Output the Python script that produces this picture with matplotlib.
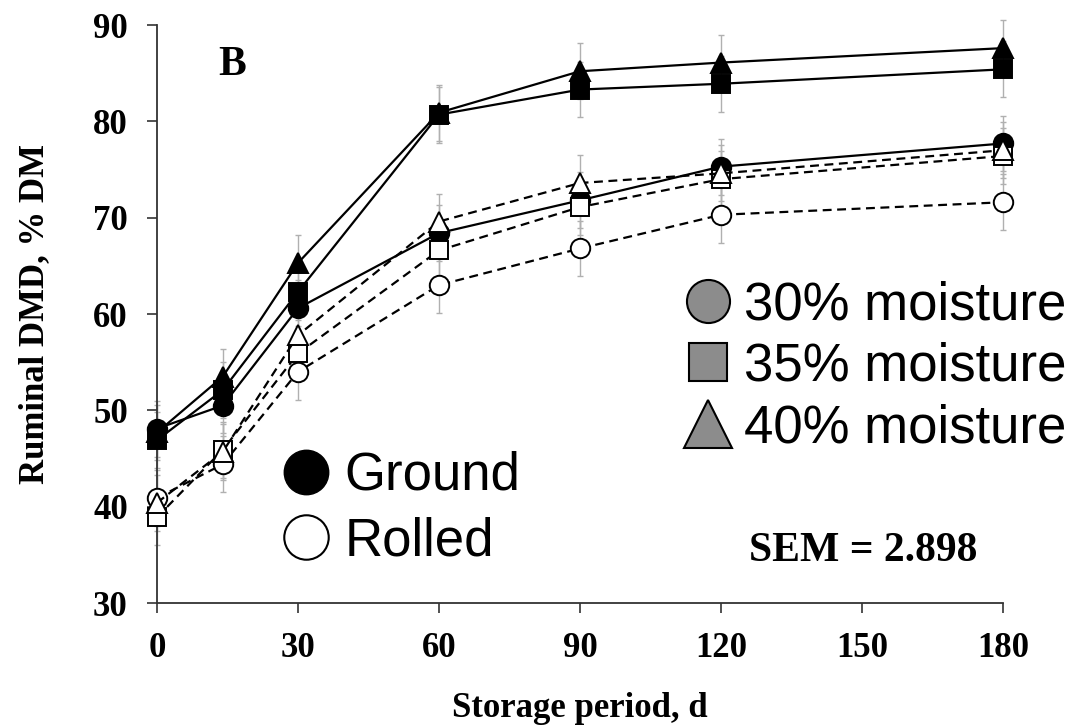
import matplotlib
matplotlib.use("Agg")
import matplotlib.pyplot as plt
from matplotlib.lines import Line2D

# ---- data ----
days = [0, 14, 30, 60, 90, 120, 180]
ground_30 = [48.1, 50.5, 60.6, 68.4, 71.8, 75.3, 77.7]
ground_35 = [46.9, 52.1, 62.3, 80.7, 83.3, 83.9, 85.4]
ground_40 = [47.7, 53.5, 65.3, 80.9, 85.2, 86.1, 87.6]
rolled_30 = [40.9, 44.4, 54.0, 63.0, 66.8, 70.3, 71.6]
rolled_35 = [38.9, 45.9, 55.9, 66.6, 71.1, 74.0, 76.4]
rolled_40 = [40.4, 45.7, 57.8, 69.6, 73.6, 74.6, 77.0]
sem = 2.898
x_ticks = [0, 30, 60, 90, 120, 150, 180]
y_ticks = [30, 40, 50, 60, 70, 80, 90]
moisture_labels = ["30% moisture", "35% moisture", "40% moisture"]
process_labels = ["Ground", "Rolled"]

W, H = 1080, 728
fig = plt.figure(figsize=(W / 100, H / 100), dpi=100)
ax = fig.add_axes([157 / W, 1 - 603 / H, (1003 - 157) / W, (603 - 25) / H])

serif = "Liberation Serif"
sans = "Liberation Sans"

series = [
    (ground_30, "o", "black", "-", 14),
    (ground_35, "s", "black", "-", 13),
    (ground_40, "^", "black", "-", 14),
    (rolled_30, "o", "white", "--", 14),
    (rolled_35, "s", "white", "--", 13),
    (rolled_40, "^", "white", "--", 14),
]
for vals, mk, fc, ls, ms in series:
    ax.errorbar(days, vals, yerr=sem, fmt="none", ecolor="#b0b0b0",
                elinewidth=1.0, capsize=2.5, capthick=1.0, zorder=1,
                clip_on=False)
for vals, mk, fc, ls, ms in series:
    line, = ax.plot(days, vals, linestyle=ls, color="black", linewidth=1.6,
                    marker=mk, markersize=ms, markerfacecolor=fc,
                    markeredgecolor="black", markeredgewidth=1.4,
                    zorder=3, clip_on=False)
    if ls == "--":
        line.set_dashes((4, 2.5))

ax.set_xlim(0, 180)
ax.set_ylim(30, 90)
ax.set_xticks(x_ticks)
ax.set_yticks(y_ticks)
ax.set_xticklabels([str(t) for t in x_ticks], fontfamily=serif,
                   fontweight="bold", fontsize=25)
ax.set_yticklabels([str(t) for t in y_ticks], fontfamily=serif,
                   fontweight="bold", fontsize=25)
ax.tick_params(axis="both", direction="out", length=7, width=1.2,
               color="#333333")
ax.tick_params(axis="x", pad=14)
ax.tick_params(axis="y", pad=14)
for side in ["top", "right"]:
    ax.spines[side].set_visible(False)
for side in ["left", "bottom"]:
    ax.spines[side].set_linewidth(1.3)
    ax.spines[side].set_color("#333333")

ax.set_xlabel("Storage period, d", fontfamily=serif, fontweight="bold",
              fontsize=25, labelpad=19)
ax.set_ylabel("Ruminal DMD, % DM", fontfamily=serif, fontweight="bold",
              fontsize=25, labelpad=30)

ax.text(0.072, 0.93, "B", transform=ax.transAxes, fontfamily=serif,
        fontweight="bold", fontsize=30, va="center", ha="left")
ax.text(0.835, 0.09, "SEM = 2.898", transform=ax.transAxes, fontfamily=serif,
        fontweight="bold", fontsize=30, va="center", ha="center")

# moisture legend
gray = "#8c8c8c"
h_m = [
    Line2D([], [], linestyle="none", marker="o", markersize=31,
           markerfacecolor=gray, markeredgecolor="black", markeredgewidth=1.5),
    Line2D([], [], linestyle="none", marker="s", markersize=28,
           markerfacecolor=gray, markeredgecolor="black", markeredgewidth=1.5),
    Line2D([], [], linestyle="none", marker="^", markersize=34,
           markerfacecolor=gray, markeredgecolor="black", markeredgewidth=1.5),
]
leg1 = fig.legend(h_m, moisture_labels, loc="upper left",
                  bbox_to_anchor=(686 / W, 1 - 280 / H), frameon=False,
                  prop={"family": sans, "size": 38}, handlelength=0.85,
                  handletextpad=0.25, labelspacing=0.22, borderpad=0,
                  borderaxespad=0)

h_p = [
    Line2D([], [], linestyle="none", marker="o", markersize=32,
           markerfacecolor="black", markeredgecolor="black"),
    Line2D([], [], linestyle="none", marker="o", markersize=32,
           markerfacecolor="white", markeredgecolor="black",
           markeredgewidth=1.5),
]
leg2 = fig.legend(h_p, process_labels, loc="upper left",
                  bbox_to_anchor=(284 / W, 1 - 451 / H), frameon=False,
                  prop={"family": sans, "size": 38}, handlelength=0.85,
                  handletextpad=0.3, labelspacing=0.3, borderpad=0,
                  borderaxespad=0)

fig.savefig("out.png", dpi=100)
